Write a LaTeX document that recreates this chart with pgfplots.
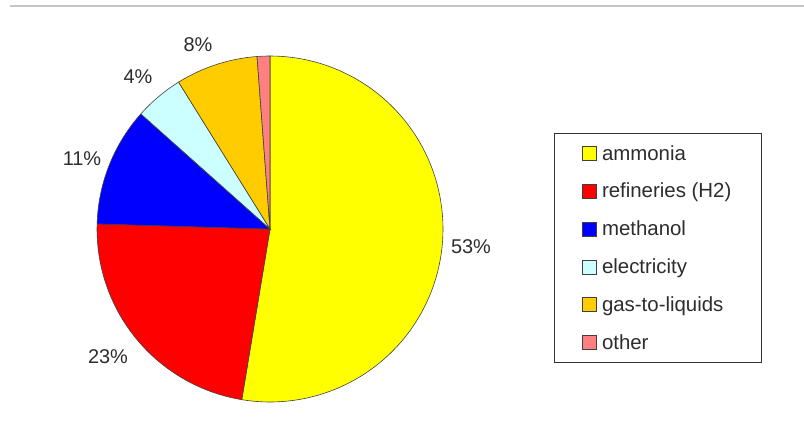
\documentclass[border=0pt]{standalone}
\usepackage{pgfplots}
\pgfplotsset{compat=1.18}
\usepackage{fontspec}
\setmainfont{Liberation Sans}
\definecolor{cAmm}{RGB}{255,255,0}
\definecolor{cRef}{RGB}{255,0,0}
\definecolor{cMet}{RGB}{0,0,255}
\definecolor{cEle}{RGB}{204,255,255}
\definecolor{cGtl}{RGB}{255,204,0}
\definecolor{cOth}{RGB}{255,128,128}
\definecolor{txt}{RGB}{45,45,45}
\begin{document}
\begin{tikzpicture}
\begin{axis}[scale only axis, width=804bp, height=425bp,
  xmin=0, xmax=804, ymin=0, ymax=425, hide axis, clip=false,
  legend image code/.code={\draw[#1] (0bp,-7bp) rectangle (14bp,7bp); \path (17bp,0bp);},
  legend cell align=left,
  legend style={at={(axis cs:554,292)}, anchor=north west, draw=black!80, line width=0.8pt,
    font=\fontsize{20.5}{23}\selectfont, text=txt,
    inner xsep=28bp, inner ysep=10bp, row sep=17.5bp,
    nodes={inner xsep=2bp, inner ysep=2bp}},
]
\addplot[forget plot, gray!45, line width=1.2pt] coordinates {(10,419) (804,419)};
% ammonia
\addplot[fill=cAmm, draw=black!75, line width=0.6pt, domain=-99.4:90, samples=90] ({270+173*cos(x)},{196+173*sin(x)}) -- (axis cs:270,196) -- cycle;
\addlegendentry{ammonia}
% refineries (H2)
\addplot[fill=cRef, draw=black!75, line width=0.6pt, domain=-181.7:-99.4, samples=40] ({270+173*cos(x)},{196+173*sin(x)}) -- (axis cs:270,196) -- cycle;
\addlegendentry{refineries (H2)}
% methanol
\addplot[fill=cMet, draw=black!75, line width=0.6pt, domain=-221.7:-181.7, samples=20] ({270+173*cos(x)},{196+173*sin(x)}) -- (axis cs:270,196) -- cycle;
\addlegendentry{methanol}
% electricity
\addplot[fill=cEle, draw=black!75, line width=0.6pt, domain=-238.1:-221.7, samples=10] ({270+173*cos(x)},{196+173*sin(x)}) -- (axis cs:270,196) -- cycle;
\addlegendentry{electricity}
% gas-to-liquids
\addplot[fill=cGtl, draw=black!75, line width=0.6pt, domain=-265.7:-238.1, samples=16] ({270+173*cos(x)},{196+173*sin(x)}) -- (axis cs:270,196) -- cycle;
\addlegendentry{gas-to-liquids}
% other
\addplot[fill=cOth, draw=black!75, line width=0.6pt, domain=-270:-265.7, samples=4] ({270+173*cos(x)},{196+173*sin(x)}) -- (axis cs:270,196) -- cycle;
\addlegendentry{other}
\begin{scope}[font=\fontsize{20}{23}\selectfont, text=txt]
\node at (axis cs:471,178) {53\%};
\node at (axis cs:108,68) {23\%};
\node at (axis cs:82,266) {11\%};
\node at (axis cs:138,348) {4\%};
\node at (axis cs:198,380) {8\%};
\end{scope}
\end{axis}
\pgfresetboundingbox
\path (current axis.south west) rectangle (current axis.north east);
\end{tikzpicture}
\end{document}
